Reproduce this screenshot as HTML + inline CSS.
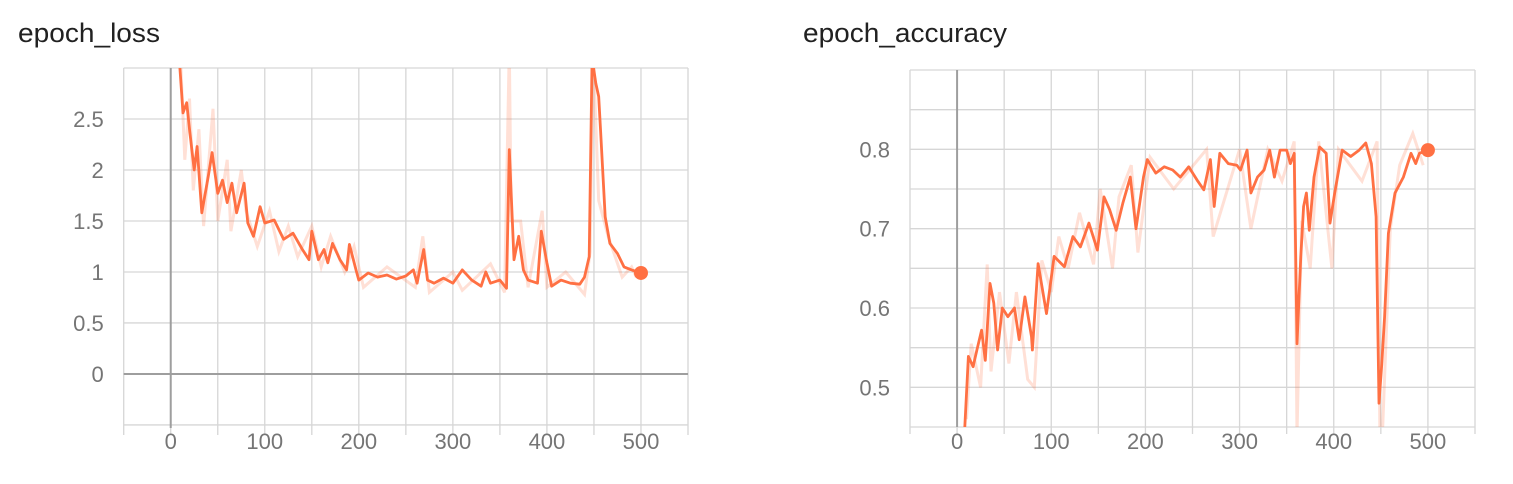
<!DOCTYPE html>
<html><head><meta charset="utf-8"><style>
body{margin:0;background:#fff;width:1513px;height:484px;overflow:hidden;font-family:"Liberation Sans",sans-serif}
svg{position:absolute;left:0;top:0}
</style></head><body>
<svg id="s" width="1513" height="484"></svg>
<script>
// ---- loss data ----
const lossEpochs=[9,13,17,20,25,28,33,40,44,50,55,60,65,70,78,82,88,95,100,110,120,130,140,147,150,157,163,167,172,180,187,190,197,200,210,220,230,240,250,258,262,269,273,280,290,300,310,320,330,335,340,350,357,360,365,370,375,380,390,394,400,405,415,425,435,440,445,448,452,455,457,462,467,475,482,490,500];
const lossValues=[3.1,2.56,2.66,2.4,2.0,2.23,1.58,1.94,2.17,1.77,1.9,1.68,1.87,1.58,1.87,1.48,1.35,1.64,1.48,1.51,1.32,1.38,1.22,1.12,1.4,1.12,1.22,1.09,1.28,1.12,1.02,1.27,1.02,0.92,0.99,0.95,0.97,0.93,0.96,1.02,0.89,1.22,0.92,0.89,0.94,0.89,1.02,0.92,0.86,1.0,0.89,0.92,0.84,2.2,1.12,1.35,1.02,0.92,0.89,1.4,1.09,0.86,0.92,0.89,0.88,0.95,1.15,3.1,2.85,2.72,2.4,1.54,1.28,1.18,1.05,1.02,0.99];
const lossRawEpochs=[10,15,20,24,30,35,45,50,60,64,75,80,92,105,115,125,135,150,160,170,185,195,205,230,260,268,275,300,310,340,355,360,362,372,380,395,400,420,440,446,449,455,465,480,490,495];
const lossRawValues=[3.2,2.1,2.7,1.8,2.4,1.45,2.6,1.5,2.1,1.4,2.0,1.6,1.25,1.6,1.2,1.45,1.15,1.45,1.05,1.35,1.0,1.25,0.85,1.05,0.85,1.35,0.8,1.0,0.82,1.08,0.8,3.2,1.5,1.5,0.85,1.6,0.85,1.0,0.78,1.2,3.2,1.7,1.35,0.95,1.05,0.95];
// ---- accuracy data ----
const accEpochs=[8,12,17,21,26,30,35,39,43,48,54,61,66,72,79,80,86,95,103,114,123,131,140,149,156,162,169,176,184,190,198,202,211,220,229,237,246,255,262,269,273,279,288,297,301,308,312,319,326,332,337,343,350,354,358,361,365,368,371,374,379,385,392,396,401,409,418,427,434,440,445,448,451,454,458,465,474,482,487,491,500];
const accValues=[0.445,0.539,0.526,0.547,0.572,0.534,0.631,0.606,0.547,0.60,0.589,0.60,0.56,0.614,0.564,0.547,0.656,0.593,0.665,0.652,0.69,0.677,0.707,0.673,0.74,0.724,0.698,0.732,0.765,0.70,0.765,0.787,0.77,0.778,0.774,0.765,0.778,0.761,0.749,0.787,0.728,0.795,0.782,0.78,0.774,0.799,0.745,0.765,0.774,0.799,0.765,0.799,0.799,0.782,0.795,0.555,0.665,0.728,0.745,0.698,0.765,0.803,0.795,0.707,0.745,0.799,0.791,0.799,0.808,0.782,0.715,0.48,0.53,0.589,0.694,0.745,0.765,0.795,0.782,0.795,0.799];
const accRawEpochs=[10,15,25,32,36,45,55,63,75,82,90,100,108,118,130,145,152,165,172,185,192,205,230,265,272,300,312,330,345,358,361,366,375,384,398,405,430,446,449,452,460,470,484,495];
const accRawValues=[0.46,0.555,0.5,0.655,0.52,0.62,0.53,0.62,0.51,0.5,0.66,0.62,0.69,0.65,0.72,0.655,0.75,0.65,0.74,0.78,0.67,0.79,0.75,0.8,0.69,0.8,0.7,0.8,0.76,0.81,0.44,0.71,0.65,0.81,0.65,0.8,0.76,0.81,0.44,0.45,0.7,0.78,0.82,0.78];
const xTicks=[0,100,200,300,400,500];
const lossYTicks=[0,0.5,1,1.5,2,2.5];
const accYTicks=[0.5,0.6,0.7,0.8];

const NS="http://www.w3.org/2000/svg";
const svg=document.getElementById('s');
function mk(tag,attrs,parent){const e=document.createElementNS(NS,tag);for(const k in attrs)e.setAttribute(k,attrs[k]);(parent||svg).appendChild(e);return e;}

function chart(cfg){
  const g=mk('g',{});
  
  
  const X=v=>cfg.x0+(v-cfg.xmin)/(cfg.xmax-cfg.xmin)*(cfg.x1-cfg.x0);
  const Y=v=>cfg.y1-(v-cfg.ymin)/(cfg.ymax-cfg.ymin)*(cfg.y1-cfg.y0);
  const t=mk('text',{x:cfg.tx,y:42,'font-size':27,fill:'#212121',textLength:cfg.tw,lengthAdjust:'spacingAndGlyphs'},g);
  t.textContent=cfg.title;
  
  
  for(let v=cfg.xmin;v<=cfg.xmax+0.01;v+=50){
    const l=mk('line',{x1:X(v),x2:X(v),y1:cfg.y0,y2:cfg.y1+7,stroke:'#d6d6d6','stroke-width':1.3},g);
    
    
  }
  for(let v=cfg.gridStart;v<=cfg.ymax+1e-6;v+=cfg.gridStep){
    const l=mk('line',{x1:cfg.x0,x2:cfg.x1,y1:Y(v),y2:Y(v),stroke:'#d6d6d6','stroke-width':1.3},g);
    
    
  }
  const zx=mk('line',{x1:X(0),x2:X(0),y1:cfg.y0,y2:cfg.y1,stroke:'#9e9e9e','stroke-width':2},g);
  
  
  if(cfg.ymin<0){
    const zy=mk('line',{x1:cfg.x0,x2:cfg.x1,y1:Y(0),y2:Y(0),stroke:'#9e9e9e','stroke-width':2},g);
    
    
  }
  xTicks.forEach(v=>{
    const e=mk('text',{x:X(v),y:449,'font-size':22,fill:'#757575','text-anchor':'middle'},g);
    e.textContent=v;
    
    
  });
  cfg.yTicks.forEach(v=>{
    const e=mk('text',{x:cfg.x0-20,y:Y(v)+8,'font-size':22,fill:'#757575','text-anchor':'end'},g);
    e.textContent=v;
    
    
  });
  const cp=mk('clipPath',{id:'c'+cfg.name},g);
  mk('rect',{x:cfg.x0,y:cfg.y0,width:cfg.x1-cfg.x0,height:cfg.y1-cfg.y0},cp);
  const raw=mk('path',{d:cfg.rawE.map((e,i)=>(i?'L':'M')+X(e).toFixed(1)+','+Y(cfg.rawV[i]).toFixed(1)).join(''),fill:'none',stroke:'#ff7043','stroke-opacity':0.22,'stroke-width':3,'clip-path':'url(#c'+cfg.name+')'},g);
  
  
  const sm=mk('path',{d:cfg.e.map((e,i)=>(i?'L':'M')+X(e).toFixed(1)+','+Y(cfg.v[i]).toFixed(1)).join(''),fill:'none',stroke:'#ff7043','stroke-width':2.8,'stroke-linejoin':'round','clip-path':'url(#c'+cfg.name+')'},g);
  
  
  const n=cfg.e.length-1;
  const d=mk('circle',{cx:X(cfg.e[n]),cy:Y(cfg.v[n]),r:7,fill:'#ff7043'},g);
  
  
}
chart({name:'loss-chart',title:'epoch_loss',tx:18,tw:142,x0:123.7,x1:688,xmin:-50,xmax:550,y0:68,y1:428,ymin:-0.53,ymax:3.0,gridStart:-0.5,gridStep:0.5,yTicks:lossYTicks,e:lossEpochs,v:lossValues,rawE:lossRawEpochs,rawV:lossRawValues});
chart({name:'accuracy-chart',title:'epoch_accuracy',tx:803,tw:204,x0:910,x1:1475,xmin:-50,xmax:550,y0:70,y1:427,ymin:0.45,ymax:0.9,gridStart:0.45,gridStep:0.05,yTicks:accYTicks,e:accEpochs,v:accValues,rawE:accRawEpochs,rawV:accRawValues});
</script>
</body></html>
